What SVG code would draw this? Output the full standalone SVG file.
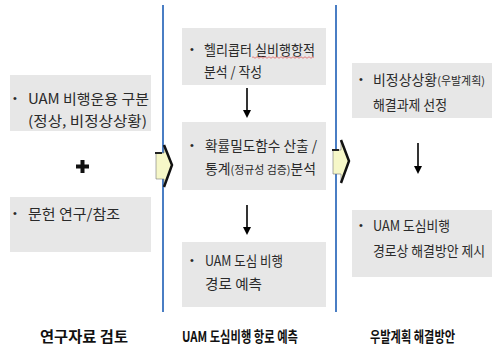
<svg xmlns="http://www.w3.org/2000/svg" width="492" height="345" viewBox="0 0 492 345">
<defs>
<style>
.box{fill:#e7e7e7}
.t{font-family:"Noto Sans CJK KR","Noto Sans",sans-serif;font-size:14px;fill:#2a2a2a}
.b{font-family:"Liberation Sans",sans-serif;font-size:11px;fill:#2a2a2a}
.s{font-size:11px}
.h{font-family:"Noto Sans CJK KR","Noto Sans",sans-serif;font-size:15px;font-weight:bold;fill:#111}
.vl{stroke:#4a7ec4;stroke-width:2}
.ar{stroke:#000;stroke-width:1.6;fill:none}
.chev{fill:#f6f7c8;stroke:#777;stroke-width:0.6}
.chk{fill:none;stroke:#111;stroke-width:2.5}
</style>
<marker id="ah" markerWidth="8" markerHeight="8" refX="4" refY="4" orient="auto" markerUnits="userSpaceOnUse"><path d="M0,0 L8,4 L0,8 z" fill="#000"/></marker>
</defs>
<g id="lines">
<line class="vl" x1="163" y1="5" x2="163" y2="312"/>
<line class="vl" x1="336" y1="5" x2="336" y2="312"/>
</g>
<g id="n1">
<rect class="box" x="10" y="75" width="141" height="56"/>
<text class="b" x="13" y="102">•</text>
<text class="t" x="28" y="104" textLength="121" lengthAdjust="spacingAndGlyphs">UAM 비행운용 구분</text>
<text class="t" x="28" y="126" textLength="119" lengthAdjust="spacingAndGlyphs">(정상, 비정상상황)</text>
</g>
<g id="plus">
<path d="M80.5,160 h4 v4.5 h4.5 v4 h-4.5 v4.5 h-4 v-4.5 h-4.5 v-4 h4.5 z" fill="#111"/>
</g>
<g id="n2">
<rect class="box" x="10" y="197" width="141" height="55"/>
<text class="b" x="13" y="217">•</text>
<text class="t" x="28" y="219" textLength="92" lengthAdjust="spacingAndGlyphs">문헌 연구/참조</text>
</g>
<g id="m1">
<rect class="box" x="182" y="28" width="144" height="57"/>
<text class="b" x="190" y="53">•</text>
<text class="t" x="204" y="55" textLength="111" lengthAdjust="spacingAndGlyphs">헬리콥터 실비행항적</text>
<path d="M252,57.5 q1,-1.5 2,0 t2,0 t2,0 t2,0 t2,0 t2,0 t2,0 t2,0 t2,0 t2,0 t2,0 t2,0 t2,0 t2,0 t2,0 t2,0 t2,0 t2,0 t2,0 t2,0 t2,0 t2,0 t2,0 t2,0 t2,0 t2,0 t2,0 t2,0 t2,0 t2,0 t2,0" fill="none" stroke="#e06060" stroke-width="0.8"/>
<text class="t" x="204" y="77" textLength="58" lengthAdjust="spacingAndGlyphs">분석 / 작성</text>
</g>
<g id="m2">
<rect class="box" x="182" y="122" width="144" height="68"/>
<text class="b" x="190" y="149">•</text>
<text class="t" x="205" y="151" textLength="112" lengthAdjust="spacingAndGlyphs">확률밀도함수 산출 /</text>
<text class="t" x="205" y="174" textLength="111" lengthAdjust="spacingAndGlyphs">통계<tspan class="s">(정규성 검증)</tspan>분석</text>
</g>
<g id="m3">
<rect class="box" x="182" y="242" width="144" height="65"/>
<text class="b" x="190" y="264">•</text>
<text class="t" x="205" y="266" textLength="78" lengthAdjust="spacingAndGlyphs">UAM 도심 비행</text>
<text class="t" x="205" y="289" textLength="57" lengthAdjust="spacingAndGlyphs">경로 예측</text>
</g>
<g id="r1">
<rect class="box" x="352" y="63" width="140" height="55"/>
<text class="b" x="359" y="83">•</text>
<text class="t" x="373" y="85" textLength="112" lengthAdjust="spacingAndGlyphs">비정상상황<tspan class="s">(우발계획)</tspan></text>
<text class="t" x="373" y="110" textLength="74" lengthAdjust="spacingAndGlyphs">해결과제 선정</text>
</g>
<g id="r2">
<rect class="box" x="352" y="210" width="140" height="67"/>
<text class="b" x="359" y="229">•</text>
<text class="t" x="373" y="231" textLength="77" lengthAdjust="spacingAndGlyphs">UAM 도심비행</text>
<text class="t" x="373" y="256" textLength="112" lengthAdjust="spacingAndGlyphs">경로상 해결방안 제시</text>
</g>
<g id="connectors">
<line class="ar" x1="247" y1="88" x2="247" y2="114" marker-end="url(#ah)"/>
<line class="ar" x1="247" y1="205" x2="247" y2="231" marker-end="url(#ah)"/>
<line class="ar" x1="418" y1="143" x2="418" y2="170" marker-end="url(#ah)"/>
<g id="chev1">
<path class="chev" d="M156,153 L164,153 L164,146 L172,165 L164,186 L164,179 L156,179 Z"/>
<path class="chk" d="M164,145 L172,165 L164,187"/>
<line x1="155" y1="153" x2="162" y2="153" stroke="#222" stroke-width="2"/>
</g>
<g id="chev2">
<path class="chev" d="M333,150 L341,150 L341,141 L349,161 L341,182 L341,174 L333,174 Z"/>
<path class="chk" d="M341,140 L349,161 L341,183"/>
<line x1="332" y1="150" x2="339" y2="150" stroke="#222" stroke-width="2"/>
</g>
</g>
<g id="labels">
<text class="h" x="40" y="342" textLength="88" lengthAdjust="spacingAndGlyphs">연구자료 검토</text>
<text class="h" x="182" y="342" textLength="116" lengthAdjust="spacingAndGlyphs">UAM 도심비행 항로 예측</text>
<text class="h" x="370" y="342" textLength="85" lengthAdjust="spacingAndGlyphs">우발계획 해결방안</text>
</g>
</svg>
